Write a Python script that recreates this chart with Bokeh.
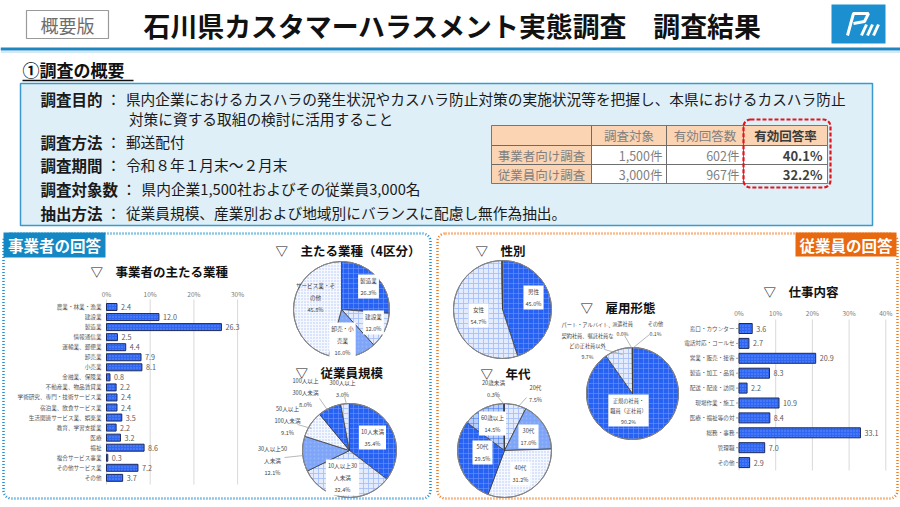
import math
from bokeh.plotting import figure
from bokeh.models import Range1d, ColumnDataSource
from bokeh.core.properties import value
from bokeh.embed import file_html
from bokeh.resources import INLINE

# ---------------- data ----------------
industry_cats = ["農業・林業・漁業", "建設業", "製造業", "情報通信業", "運輸業、郵便業", "卸売業", "小売業",
                 "金融業、保険業", "不動産業、物品賃貸業", "学術研究、専門・技術サービス業", "宿泊業、飲食サービス業",
                 "生活関連サービス業、娯楽業", "教育、学習支援業", "医療", "福祉", "複合サービス事業",
                 "その他サービス業", "その他"]
industry_vals = [2.4, 12.0, 26.3, 2.5, 4.4, 7.9, 8.1, 0.8, 2.2, 2.4, 2.4, 3.5, 2.2, 3.2, 8.6, 0.3, 7.2, 3.7]
industry_ticks = [0, 10, 20, 30]

sector_labels = ["製造業", "建設業", "卸売・小\n売業", "サービス業・そ\nの他"]
sector_vals = [26.3, 12.0, 16.0, 45.8]

size_labels = ["10人未満", "10人以上30\n人未満", "30人以上50\n人未満", "50人以上\n100人未満", "100人以上\n300人未満", "300人以上"]
size_vals = [35.4, 32.4, 12.1, 9.1, 8.0, 3.0]

gender_labels = ["男性", "女性", ""]
gender_vals = [45.0, 54.7, 0.3]

employ_labels = ["正規の社員・\n職員（正社員）", "パート・アルバイト、\n契約社員、嘱託社員な\nどの正社員以外", "派遣社員", "その他"]
employ_vals = [90.2, 9.7, 0.0, 0.1]

age_labels = ["20代", "30代", "40代", "50代", "60歳以上", "20歳未満"]
age_vals = [7.5, 17.0, 31.2, 29.5, 14.5, 0.3]

job_cats = ["窓口・カウンター", "電話対応・コールセ", "営業・販売・接客", "製造・加工・品質", "配送・配達・訪問",
            "現場作業・施工", "医療・福祉等の対", "総務・事務", "管理職", "その他"]
job_vals = [3.6, 2.7, 20.9, 8.3, 2.2, 10.9, 8.4, 33.1, 7.0, 2.9]
job_ticks = [0, 10, 20, 30, 40]

table_cols = ["調査対象", "有効回答数", "有効回答率"]
table_rows = ["事業者向け調査", "従業員向け調査"]
table_targets = [1500, 3000]
table_valid = [602, 967]
table_rates = [40.1, 32.2]

summary_items = [
    ("調査目的", "県内企業におけるカスハラの発生状況やカスハラ防止対策の実施状況等を把握し、本県におけるカスハラ防止"),
    ("", "対策に資する取組の検討に活用すること"),
    ("調査方法", "郵送配付"),
    ("調査期間", "令和８年１月末～２月末"),
    ("調査対象数", "県内企業1,500社およびその従業員3,000名"),
    ("抽出方法", "従業員規模、産業別および地域別にバランスに配慮し無作為抽出。"),
]

# ---------------- canvas ----------------
W, H = 900, 507
FONT = "Noto Sans CJK JP"
p = figure(width=W, height=H, x_range=Range1d(0, W), y_range=Range1d(0, H),
           output_backend="svg", toolbar_location=None,
           x_axis_location=None, y_axis_location=None,
           min_border=0, min_border_left=0, min_border_right=0, min_border_top=0, min_border_bottom=0)
p.grid.visible = False
p.outline_line_color = None
p.background_fill_color = "white"
p.border_fill_color = "white"


def Y(t):
    return H - t


def txt(x, y, s, size, color="#333333", bold=False, align="left", baseline="middle", **kw):
    p.text(x=[x], y=[Y(y)], text=[s], text_font=value(FONT), text_font_size=f"{size}px",
           text_color=color, text_font_style="bold" if bold else "normal",
           text_align=align, text_baseline=baseline, **kw)


def box(x0, x1, y0, y1, **kw):
    p.quad(left=[x0], right=[x1], top=[Y(y0)], bottom=[Y(y1)], **kw)


# ---------------- header ----------------
box(26, 108, 10, 38, fill_color="white", line_color="#9a9a9a", line_width=1.2)
txt(67, 24.5, "概要版", 18, color="#6e6e6e", align="center")
txt(143, 25, "石川県カスタマーハラスメント実態調査　調査結果", 26.9, color="#111111", bold=True)
box(831, 885, 4, 43, fill_color="#1b8fcf", line_color=None)
p.multi_line(xs=[[847, 853, 868, 864, 853], [861, 866], [867, 872], [873, 878]],
             ys=[[Y(35), Y(13), Y(13), Y(21), Y(23)], [Y(35), Y(24)], [Y(35), Y(24)], [Y(35), Y(24)]],
             line_color="white", line_width=3)
box(0, 900, 47, 50, fill_color="#1e86c0", line_color=None)
box(0, 900, 51, 52, fill_color="#a8d3ea", line_color=None)

# ---------------- summary ----------------
txt(22, 69, "①調査の概要", 17, color="#111111", bold=True)
p.segment(x0=[22], y0=[Y(80)], x1=[133], y1=[Y(80)], line_color="#111111", line_width=1.5)
box(20, 872, 83, 225, fill_color="#deeff8", line_color="#3a9ad0", line_width=1.5)
line_y = [98, 118, 141, 164, 188, 212]
for (lab, body), yy in zip(summary_items, line_y):
    if lab:
        txt(40, yy, lab, 15.5, color="#1a1a1a", bold=True)
        cx = 40 + len(lab) * 15.6 + 3
        txt(cx, yy, "：", 15, color="#1a1a1a")
        txt(cx + 20, yy, body, 14.7, color="#1a1a1a")
    else:
        txt(40 + 4 * 15.6 + 26, yy, body, 14.7, color="#1a1a1a")

# table
cx_edges = [491, 591, 666, 743, 827]
ry_edges = [125, 145, 164, 183]
peach = "#fbd4b4"
for ci in range(4):
    for ri in range(3):
        fill = peach if (ri == 0 or ci == 0) else "white"
        box(cx_edges[ci], cx_edges[ci + 1], ry_edges[ri], ry_edges[ri + 1],
            fill_color=fill, line_color="#5a5a5a", line_width=0.8)
for ci, name in enumerate(table_cols):
    last = ci == len(table_cols) - 1
    txt((cx_edges[ci + 1] + cx_edges[ci + 2]) / 2, 135, name, 12.5,
        color="#3a3a3a" if last else "#7f7f7f", bold=last, align="center")
for ri in range(len(table_rows)):
    yy = (ry_edges[ri + 1] + ry_edges[ri + 2]) / 2
    txt((cx_edges[0] + cx_edges[1]) / 2, yy, table_rows[ri], 12.5, color="#7f7f7f", align="center")
    txt(cx_edges[2] - 4, yy, f"{table_targets[ri]:,}件", 12.5, color="#7f7f7f", align="right")
    txt(cx_edges[3] - 4, yy, f"{table_valid[ri]:,}件", 12.5, color="#7f7f7f", align="right")
    txt(cx_edges[4] - 5, yy, f"{table_rates[ri]:.1f}%", 13, color="#3f3f3f", bold=True, align="right")
p.quad(left=[743], right=[830], top=[Y(119)], bottom=[Y(187)], fill_color=None,
       line_color="#e3141c", line_width=2.2, line_dash="4 2", border_radius=7)

# ---------------- panels ----------------
p.quad(left=[3], right=[430], top=[Y(233)], bottom=[Y(498)], fill_color=None,
       line_color="#1c8fd0", line_width=2.5, line_dash="1 2", border_radius=8)
p.quad(left=[437], right=[897], top=[Y(233)], bottom=[Y(498)], fill_color=None,
       line_color="#f07a1e", line_width=2.5, line_dash="1 2", border_radius=8)
box(3, 105, 232, 257, fill_color="#1488c4", line_color=None)
txt(54, 244.5, "事業者の回答", 15.5, color="white", bold=True, align="center")
box(795, 896, 232, 256, fill_color="#e8690f", line_color=None)
txt(845.5, 244, "従業員の回答", 15.5, color="white", bold=True, align="center")

# ---------------- styles ----------------
BAR = dict(fill_color="#2f66f3", line_color="#1d2b5c", line_width=1,
           hatch_pattern="dot", hatch_color="#8fb0ff", hatch_scale=3, hatch_alpha=0.6)
STRONG = dict(fill_color="#2762f2", hatch_pattern="cross", hatch_color="#6f98ff", hatch_scale=5, hatch_alpha=0.55)
LIGHT = dict(fill_color="#e3ebfd", hatch_pattern="cross", hatch_color="#a9c1fa", hatch_scale=5, hatch_alpha=0.9)
MEDIUM = dict(fill_color="#7ea5f7", hatch_pattern="dot", hatch_color="#a9c4ff", hatch_scale=4, hatch_alpha=0.5)
MIDCHECK = dict(fill_color="#b7cdfb", hatch_pattern="cross", hatch_color="#4d7ff0", hatch_scale=5, hatch_alpha=0.6)
WHITE = dict(fill_color="#f6f8ff", hatch_pattern="dot", hatch_color="#9ab6f8", hatch_scale=3, hatch_alpha=0.8)


def bar_chart(cats, vals, ticks, x0, k, y0, dy, h, grid_top, grid_bot, tick_y, cat_x, cat_size, val_size, tick_size, ticks_marks=False):
    ys = [Y(y0 + i * dy) for i in range(len(cats))]
    for t in ticks:
        p.segment(x0=[x0 + t * k], y0=[Y(grid_top)], x1=[x0 + t * k], y1=[Y(grid_bot)],
                  line_color="#d9d9d9", line_width=1)
    p.text(x=[x0 + t * k for t in ticks], y=[Y(tick_y)] * len(ticks), text=[f"{t}%" for t in ticks],
           text_font=value(FONT), text_font_size=f"{tick_size}px", text_color="#7a7a7a",
           text_align="center", text_baseline="middle")
    src = ColumnDataSource(dict(y=ys, right=[x0 + v * k for v in vals], lab=[f"{v:.1f}" for v in vals],
                                lx=[x0 + v * k + 4 for v in vals], cat=cats))
    p.hbar(y="y", left=x0, right="right", height=h, source=src, **BAR)
    p.text(x="lx", y="y", text="lab", source=src, text_font=value(FONT), text_font_size=f"{val_size}px",
           text_color="#5a5a5a", text_align="left", text_baseline="middle")
    p.text(x=cat_x, y="y", text="cat", source=src, text_font=value(FONT), text_font_size=f"{cat_size}px",
           text_color="#555555", text_align="right", text_baseline="middle")
    if ticks_marks:
        p.segment(x0=x0 - 3, y0="y", x1=x0, y1="y", source=src, line_color="#888888", line_width=0.8)


# left bar chart
txt(90, 271, "▽　事業者の主たる業種", 12.5, color="#111111", bold=True)
bar_chart(industry_cats, industry_vals, industry_ticks, 106, 4.37, 306.5, 10.05, 7,
          299, 484, 293, 101, 5.6, 7.2, 6.5)

# right bar chart
txt(763, 291, "▽　仕事内容", 12.5, color="#111111", bold=True)
bar_chart(job_cats, job_vals, job_ticks, 738.5, 3.67, 328, 14.9, 10,
          319, 470, 312, 734, 5.6, 7.2, 6.5, ticks_marks=True)


# ---------------- pies ----------------
def pie(cx, cy, r, vals, styles):
    total = sum(vals)
    cum = 0.0
    for v, st in zip(vals, styles):
        a0 = math.pi / 2 - 2 * math.pi * cum / total
        cum += v
        a1 = math.pi / 2 - 2 * math.pi * cum / total
        if v <= 0:
            continue
        p.wedge(x=[cx], y=[Y(cy)], radius=r, start_angle=a0, end_angle=a1, direction="clock",
                line_color="#3c3c3c", line_width=0.8, **st)
    p.circle(x=[cx], y=[Y(cy)], radius=r, fill_color=None, line_color="#8a8a8a", line_width=1)


def pie_labels(labels, vals, pos, boxed, size=5.6):
    for lab, v, (x, y), b in zip(labels, vals, pos, boxed):
        if not lab:
            continue
        kw = dict(background_fill_color="white", padding=2) if b else {}
        txt(x, y, f"{lab}\n{v:.1f}%", size, color="#444444", align="center", text_line_height=1.5, **kw)


def leaders(segs):
    p.segment(x0=[s[0] for s in segs], y0=[Y(s[1]) for s in segs], x1=[s[2] for s in segs],
              y1=[Y(s[3]) for s in segs], line_color="#9a9a9a", line_width=0.7)


# 主たる業種（4区分）
txt(275, 250, "▽　主たる業種（4区分）", 12.5, color="#111111", bold=True)
pie(341, 309, 48, sector_vals, [STRONG, LIGHT, MEDIUM, WHITE])
pie_labels(sector_labels, sector_vals, [(368, 286), (373, 322), (342, 340), (315, 297)], [True, True, True, False])

# 従業員規模
txt(295, 372, "▽　従業員規模", 12.5, color="#111111", bold=True)
pie(349, 450, 47, size_vals, [STRONG, LIGHT, MEDIUM, WHITE, STRONG, LIGHT])
leaders([(284, 457, 303, 455), (319, 398, 328, 411), (344, 396, 346, 404), (297, 424, 311, 428)])
pie_labels(size_labels, size_vals, [(372, 437), (342, 477), (272, 460), (287, 420), (305, 392), (342, 388)],
           [True, True, False, False, False, False])

# 性別
txt(475, 250, "▽　性別", 12.5, color="#111111", bold=True)
pie(502, 309, 49, gender_vals, [STRONG, LIGHT, LIGHT])
pie_labels(gender_labels, gender_vals, [(533, 297), (478, 315), (0, 0)], [True, True, False])

# 雇用形態
txt(580, 307, "▽　雇用形態", 12.5, color="#111111", bold=True)
pie(632, 393, 46, employ_vals, [STRONG, LIGHT, WHITE, MEDIUM])
leaders([(604, 349, 622, 354), (624, 335, 631, 347), (649, 334, 633, 347)])
pie_labels(employ_labels, employ_vals, [(628, 410), (587, 340), (622, 328), (655, 328)],
           [True, False, False, False], size=5.2)

# 年代
txt(480, 373, "▽　年代", 12.5, color="#111111", bold=True)
pie(504, 450, 47, age_vals, [LIGHT, MEDIUM, WHITE, STRONG, MIDCHECK, STRONG])
leaders([(526, 397, 517, 407), (496, 395, 503, 403)])
pie_labels(age_labels, age_vals, [(535, 393), (528, 436), (520, 473), (482, 452), (492, 423), (493, 388)],
           [False, True, True, True, True, False])

open("out.html", "w").write(file_html(p, INLINE))
